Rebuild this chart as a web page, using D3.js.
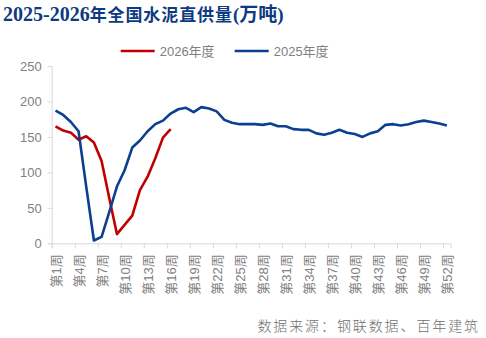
<!DOCTYPE html>
<html>
<head>
<meta charset="utf-8">
<script src="https://cdn.jsdelivr.net/npm/d3@7"></script>
<style>
  html, body { margin: 0; padding: 0; background: #ffffff; }
  svg { display: block; }
</style>
</head>
<body>
<svg id="chart" width="486" height="338"></svg>
<script>
// Weekly direct cement supply (10k tonnes)
const weeks = d3.range(1, 53);
const supply2025 = [
  187, 181, 171, 158, 80, 4, 9, 44, 80, 103,
  135, 145, 158, 168, 173, 183, 189, 191, 185, 192,
  190, 186, 174, 170, 168, 168, 168, 167, 169, 165,
  165, 161, 160, 160, 155, 153, 156, 160, 156, 154,
  150, 155, 158, 167, 168, 166, 168, 171, 173, 171,
  169, 166
];
const supply2026 = [165, 159, 156, 146, 151, 142, 116, 64, 13, 26, 39, 75, 94, 120, 149, 161];
const yTicks = [0, 50, 100, 150, 200, 250];
const labelWeeks = d3.range(1, 53, 3);
const seriesNames = ["2026年度", "2025年度"];
const seriesColors = ["#c00000", "#0b3f8f"];

const svg = d3.select("#chart");
const plotLeft = 51.7, plotRight = 450.7, plotTop = 66, plotBottom = 243.3;

const x = d3.scaleLinear().domain([0, 52]).range([plotLeft, plotRight]);
const y = d3.scaleLinear().domain([0, 250]).range([plotBottom, plotTop]);
const cx = w => x(w - 0.5);

// Title
const title = svg.append("text")
  .attr("x", 3).attr("y", 21)
  .attr("fill", "#0d3a80")
  .attr("font-weight", "bold");
title.append("tspan")
  .attr("font-family", "Liberation Serif, serif")
  .attr("font-size", 20)
  .text("2025-2026");
title.append("tspan")
  .attr("font-family", "Noto Sans CJK SC, sans-serif")
  .attr("font-size", 17)
  .attr("letter-spacing", 0.9)
  .text("年全国水泥直供量");
title.append("tspan")
  .attr("font-family", "Liberation Serif, Noto Sans CJK SC, serif")
  .attr("font-size", 19)
  .text("(万吨)");

// Y axis
const yAxis = svg.append("g")
  .attr("transform", `translate(${plotLeft},0)`)
  .call(d3.axisLeft(y).tickValues(yTicks).tickSize(4).tickPadding(6));
yAxis.select(".domain").attr("stroke", "#d9d9d9");
yAxis.selectAll(".tick line").attr("stroke", "#d9d9d9");
yAxis.selectAll(".tick text")
  .attr("fill", "#808080")
  .attr("font-size", 13)
  .attr("font-family", "Liberation Sans, sans-serif");

// X axis: tick marks between every third category
const xTicks = svg.append("g")
  .attr("transform", `translate(0,${plotBottom})`)
  .call(d3.axisBottom(x).tickValues(d3.range(0, 52, 3)).tickSize(5).tickFormat(""));
xTicks.select(".domain").attr("stroke", "#d9d9d9");
xTicks.selectAll(".tick line").attr("stroke", "#d9d9d9");

// X labels, rotated
const xLabels = svg.append("g")
  .attr("transform", `translate(0,${plotBottom})`)
  .call(d3.axisBottom(x).tickValues(labelWeeks.map(w => w - 0.5)).tickSize(0)
    .tickFormat(v => `第${v + 0.5}周`));
xLabels.select(".domain").remove();
xLabels.selectAll(".tick text")
  .attr("transform", "rotate(-90)")
  .attr("text-anchor", "end")
  .attr("x", -11)
  .attr("y", 0)
  .attr("dy", "0.38em")
  .attr("dx", 0)
  .attr("fill", "#808080")
  .attr("font-size", 13)
  .attr("font-family", "Liberation Sans, Noto Sans CJK SC, sans-serif");

// Lines
const line = d3.line().x((d, i) => cx(i + 1)).y(d => y(d));
[supply2026, supply2025].forEach((data, k) => {
  svg.append("path")
    .datum(data)
    .attr("fill", "none")
    .attr("stroke", seriesColors[k])
    .attr("stroke-width", 2.6)
    .attr("stroke-linejoin", "round")
    .attr("d", line);
});

// Legend
const legendPos = [120.7, 234.7];
seriesNames.forEach((name, k) => {
  const g = svg.append("g").attr("transform", `translate(${legendPos[k]},51)`);
  g.append("line").attr("x1", 0).attr("x2", 34).attr("y1", 0).attr("y2", 0)
    .attr("stroke", seriesColors[k]).attr("stroke-width", 2.6);
  g.append("text").attr("x", 39).attr("y", 0).attr("dy", "0.36em")
    .attr("fill", "#808080").attr("font-size", 13)
    .attr("font-family", "Liberation Sans, Noto Sans CJK SC, sans-serif")
    .text(name);
});

// Source note
svg.append("text")
  .attr("x", 480).attr("y", 331)
  .attr("text-anchor", "end")
  .attr("fill", "#707070")
  .attr("font-size", 14)
  .attr("font-weight", 300)
  .attr("letter-spacing", 1.9)
  .attr("font-family", "Noto Sans CJK SC, sans-serif")
  .text("数据来源：钢联数据、百年建筑");
</script>
</body>
</html>
